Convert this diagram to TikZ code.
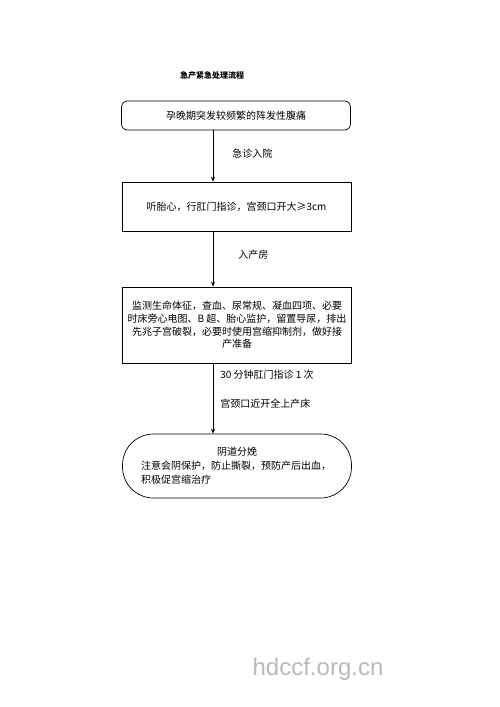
\documentclass[tikz,border=0pt]{standalone}
\usepackage{fontspec}
\setmainfont{Noto Sans CJK SC}
\newfontfamily\marksf{Liberation Sans}
\usetikzlibrary{arrows.meta}

\tikzset{
  box/.style={draw, line width=0.7pt, minimum width=229pt, align=center, inner sep=3pt,
    font=\fontsize{10}{12.6}\selectfont},
  flow/.style={-{Stealth[length=5pt,width=4pt]}, line width=0.7pt},
  lbl/.style={anchor=west, inner sep=0pt, font=\fontsize{10}{12}\selectfont},
}

\begin{document}
\begin{tikzpicture}[x=1pt,y=-1pt]
    \useasboundingbox (0,0) rectangle (500,707);

    % Title
    \node[font=\bfseries\fontsize{8}{10}\selectfont] (title) at (212,75) {急产紧急处理流程};

    % Steps
    \node[box, rounded corners=6pt, minimum height=29pt] (onset) at (236,115.5) {孕晚期突发较频繁的阵发性腹痛};
    \node[box, minimum height=49pt] (exam) at (236.5,206.5) {听胎心，行肛门指诊，宫颈口开大≥3cm};
    \node[box, minimum height=76pt] (ward) at (237,325)
        {监测生命体征，查血、尿常规、凝血四项、必要\\
         时床旁心电图、B 超、胎心监护，留置导尿，排出\\
         先兆子宫破裂，必要时使用宫缩抑制剂，做好接\\
         产准备};
    \node[box, rounded corners=31pt, minimum height=64pt, align=left, text width=192pt,
          font=\fontsize{10}{14}\selectfont] (birth) at (237,466)
        {\makebox[\linewidth]{阴道分娩}\\
         注意会阴保护，防止撕裂，预防产后出血，\\
         积极促宫缩治疗};

    % Arrows
    \coordinate (spine) at (213,0);
    \draw[flow] (onset.south -| spine) -- node[lbl, pos=0.45, xshift=19pt] {急诊入院} (exam.north -| spine);
    \draw[flow] (exam.south -| spine) -- node[lbl, pos=0.42, xshift=25pt] {入产房} (ward.north -| spine);
    \draw[flow] (ward.south -| spine) -- node[lbl, pos=0.16, xshift=7pt] {30 分钟肛门指诊 1 次}
        node[lbl, pos=0.57, xshift=7pt] {宫颈口近开全上产床} (birth.north -| spine);

    % Watermark
    \node[font=\marksf\fontsize{24}{24}\selectfont, text=gray!55] (mark) at (318,669) {hdccf.org.cn};
\end{tikzpicture}
\end{document}
